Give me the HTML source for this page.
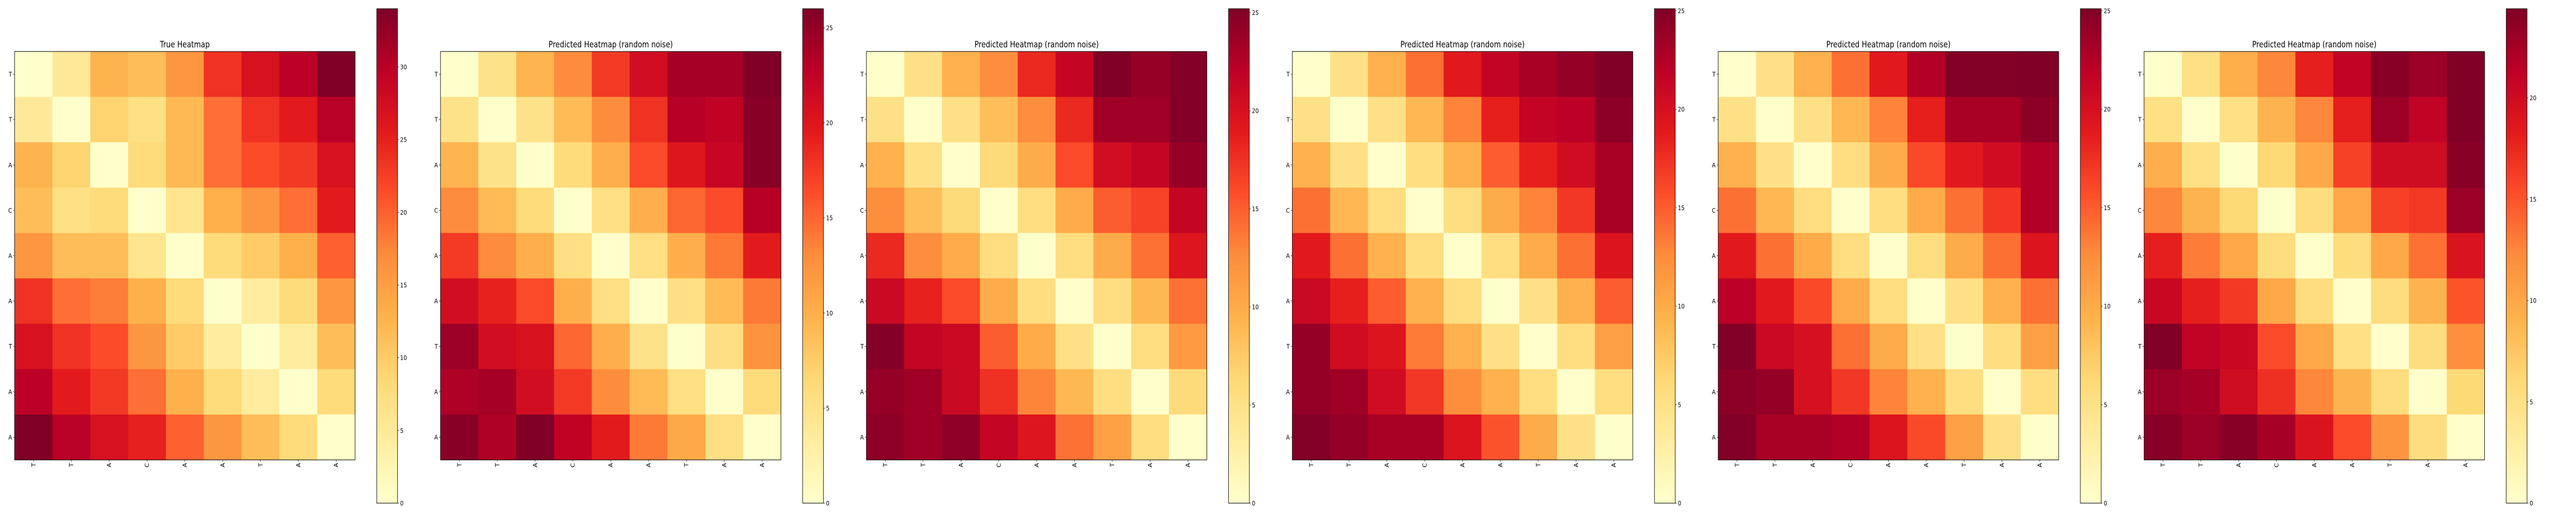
<!DOCTYPE html>
<html><head><meta charset="utf-8"><style>
html,body{margin:0;padding:0;background:#fff;overflow:hidden;width:100vw;height:100vh}
svg{display:block;width:100vw;height:100vh}
text{font-family:"DejaVu Sans","Liberation Sans",sans-serif;fill:#000}
</style></head><body>
<svg id="fig" viewBox="0 0 6000 1000" preserveAspectRatio="none" xmlns="http://www.w3.org/2000/svg"></svg>
<script>
const seqLabels = ["T","T","A","C","A","A","T","A","A"];
const panelTitles = ["True Heatmap","Predicted Heatmap (random noise)","Predicted Heatmap (random noise)","Predicted Heatmap (random noise)","Predicted Heatmap (random noise)","Predicted Heatmap (random noise)"];
const colorbarTicks = [[0,5,10,15,20,25,30],[0,5,10,15,20,25],[0,5,10,15,20,25],[0,5,10,15,20,25],[0,5,10,15,20,25],[0,5,10,15,20]];
const heatTrue = [
[0,5,12.5,11.5,16,23.5,27,29.8,34],
[5,0,9,7,12,19,23.5,25.5,30],
[12.5,9,0,8,12,19,21.5,23,27],
[11.5,7,8,0,6,13,16,19,25.5],
[16,11.5,11.5,6,0,8,10,13,20],
[23.5,19,18,13,8,0,4.5,8,16],
[27,23.5,21.5,16,10,4.5,0,4.5,11.5],
[29.8,25.5,23,19,13,8,4.5,0,8],
[34,30,27,25,20,16,11.5,8,0]];
const heatPred1 = [
[0,5,9.5,13,17.5,21,24,24,26],
[5,0,5,9,13,18,23,22.5,25.5],
[9.5,5,0,6,10,16.5,20,22,25.5],
[13,9,6,0,5.5,10,15,16.5,23],
[17.5,13,10,5.5,0,5.5,10,14,19.5],
[21,19,16.5,10,5.5,0,5.5,9,14],
[24.5,21,20.5,15,10,5,0,5.5,12.5],
[23.5,24,21,17.5,13,9,5.5,0,6],
[25.5,23.5,26,22.5,19.5,14,10.5,5.5,0]];
const heatPred2 = [
[0,5,9.5,12.5,18,21.5,25.2,24,25],
[5,0,5,8.5,12.5,18,23.5,23.5,25],
[9.5,5,0,6,10,16,20.5,21.5,24],
[12.5,8.5,6,0,5.5,10,15,16.5,21.5],
[18,12.5,10,5.5,0,5.5,10,14,19.5],
[21,18.5,16,10,5.5,0,5.5,9,14],
[25,21.5,21,15,10,5,0,5.5,11.5],
[24,23.5,21,17.5,13,9,5.5,0,6],
[24.5,23.5,24.5,21.5,19.5,14,11,5.5,0]];
const heatPred3 = [
[0,5,9.5,14,19,21.5,23,24,25.1],
[5,0,5,9,13,18.5,21.5,22,24.5],
[9.5,5,0,5.5,9.5,15,18.5,20.5,23],
[14,9,5.5,0,5.5,10,13,17,23],
[19,14,9.5,5.5,0,5.5,10,14,19.5],
[21,18.5,15,9.5,5.5,0,5,9.5,15],
[24,20.5,19.5,13.5,9.5,5,0,5.5,11],
[24,23.5,20.5,17,12.5,9.5,5.5,0,5.5],
[25,24,23,23,19.5,15.5,10,5,0]];
const heatPred4 = [
[0,5,9.5,14,19,22.5,25,25,25.1],
[5,0,5,9,13,18.5,23,23,24.5],
[9.5,5,0,5.5,10,16,19,20.5,22.5],
[14,9,5.5,0,5.5,10,14,17,22.5],
[19,14,10,5.5,0,5.5,10,14,19.5],
[22,19,16,10,5.5,0,5,9.5,14],
[25,21,20,14,10,5,0,5.5,11],
[24.5,24,20,17,13,9.5,5.5,0,5.5],
[25,23,23,22.5,19.5,16,11,5,0]];
const heatPred5 = [
[0,5,9.5,12.5,18,21,24,23,24.4],
[5,0,5,9,12.5,18,23,21,24.4],
[9.5,5,0,6,10,16,20,20,24],
[12.5,9,6,0,5.5,10,16,16.5,23],
[18,13,10,5.5,0,5.5,10,13.5,19],
[20.5,18,16.5,10,5.5,0,5.5,9,15],
[24.4,21,20.5,15.5,10,5,0,5.5,12],
[23,22.5,20,17,12.5,9,5.5,0,6],
[24,23,24,22.5,19,15.5,11.5,5.5,0]];
const allHeatmaps = [heatTrue,heatPred1,heatPred2,heatPred3,heatPred4,heatPred5];

const NS="http://www.w3.org/2000/svg";
const svg=document.getElementById('fig');
const cmapStops=["#ffffcc","#ffeda0","#fed976","#feb24c","#fd8d3c","#fc4e2a","#e31a1c","#bd0026","#800026"];
function hex2rgb(h){return [parseInt(h.slice(1,3),16),parseInt(h.slice(3,5),16),parseInt(h.slice(5,7),16)];}
function cmap(t){t=Math.max(0,Math.min(1,t));const s=t*(cmapStops.length-1);const i=Math.min(Math.floor(s),cmapStops.length-2);const f=s-i;const a=hex2rgb(cmapStops[i]),b=hex2rgb(cmapStops[i+1]);return `rgb(${Math.round(a[0]+(b[0]-a[0])*f)},${Math.round(a[1]+(b[1]-a[1])*f)},${Math.round(a[2]+(b[2]-a[2])*f)})`;}
function mk(tag,attrs,parent){const e=document.createElementNS(NS,tag);for(const k in attrs)e.setAttribute(k,attrs[k]);(parent||svg).appendChild(e);return e;}

const AX_TOP=100, AX_SIZE=793, PANEL_STEP=992, AX_LEFT0=34;
const CB_DX=843.5, CB_W=48.5, CB_TOP=17, CB_BOT=977;
const defs=mk('defs',{});
const grad=mk('linearGradient',{id:'cbgrad',x1:'0',y1:'1',x2:'0',y2:'0'},defs);
cmapStops.forEach((c,i)=>mk('stop',{offset:(i/(cmapStops.length-1)),'stop-color':c},grad));

allHeatmaps.forEach((data,p)=>{
  const g=mk('g',{});
  
  
  const left=AX_LEFT0+p*PANEL_STEP;
  const n=data.length;
  const cell=AX_SIZE/n;
  let vmax=0; data.forEach(r=>r.forEach(v=>{if(v>vmax)vmax=v;}));
  const xScale=j=>left+j*cell;
  const yScale=i=>AX_TOP+i*cell;
  data.forEach((row,i)=>row.forEach((v,j)=>{
    const r=mk('rect',{x:xScale(j),y:yScale(i),width:cell+0.6,height:cell+0.6,fill:cmap(v/vmax)},g);
    
    
  }));
  const frame=mk('rect',{x:left,y:AX_TOP,width:AX_SIZE,height:AX_SIZE,fill:'none',stroke:'#000','stroke-width':1.1},g);
  
  
  const title=mk('text',{x:left+AX_SIZE/2,y:AX_TOP-8,'text-anchor':'middle','font-size':16.5},g);
  title.textContent=panelTitles[p];
  
  
  seqLabels.forEach((lab,i)=>{
    const yc=yScale(i)+cell/2;
    mk('line',{x1:left-3.5,y1:yc,x2:left,y2:yc,stroke:'#000','stroke-width':0.8},g);
    const t=mk('text',{x:left-6,y:yc+4.5,'text-anchor':'end','font-size':12.5},g);
    t.textContent=lab;
    
    
    const xc=xScale(i)+cell/2;
    const yb=AX_TOP+AX_SIZE;
    mk('line',{x1:xc,y1:yb,x2:xc,y2:yb+3.5,stroke:'#000','stroke-width':0.8},g);
    const tx=mk('text',{x:0,y:0,'text-anchor':'end','font-size':12.5,transform:`translate(${xc+4.5},${yb+6}) rotate(-90)`},g);
    tx.textContent=lab;
    
    
  });
  const cbx=left+CB_DX;
  const cb=mk('rect',{x:cbx,y:CB_TOP,width:CB_W,height:CB_BOT-CB_TOP,fill:'url(#cbgrad)',stroke:'#000','stroke-width':1.1},g);
  
  
  const cbScale=v=>CB_BOT-(v/vmax)*(CB_BOT-CB_TOP);
  colorbarTicks[p].forEach(v=>{
    const y=cbScale(v);
    mk('line',{x1:cbx+CB_W,y1:y,x2:cbx+CB_W+3.5,y2:y,stroke:'#000','stroke-width':0.8},g);
    const t=mk('text',{x:cbx+CB_W+6,y:y+4.5,'font-size':12.5},g);
    t.textContent=String(v);
    
    
  });
});
</script>
</body></html>
